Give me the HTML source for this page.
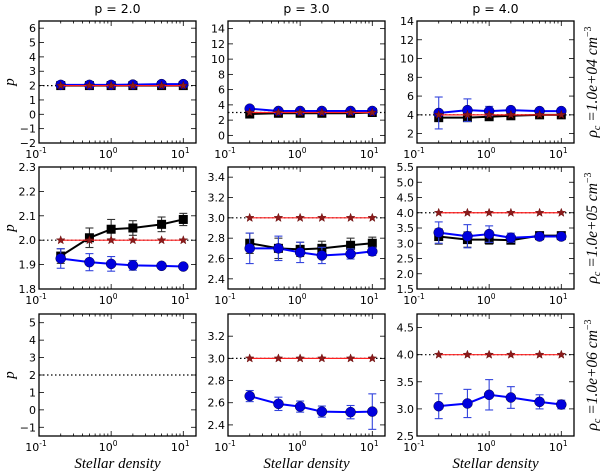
<!DOCTYPE html>
<html><head><meta charset="utf-8"><style>
html,body{margin:0;padding:0;background:#fff;}
svg{display:block;}
text{font-family:"DejaVu Sans","Liberation Sans",sans-serif;}
</style></head><body>
<svg id="fig" width="600" height="473" viewBox="0 0 600 473" xmlns="http://www.w3.org/2000/svg"></svg>
<script>
const xValues=[0.2,0.5,1,2,5,10];
const colTitles=["p = 2.0","p = 3.0","p = 4.0"];
const trueP=[2,3,4];
const rowLabels=["1.0e+04","1.0e+05","1.0e+06"];
const yLims=[[[-2,6.5],[-1,15],[1,14]],[[1.8,2.3],[2.3,3.5],[1.5,5.5]],[[-1.5,5.5],[2.3,3.4],[2.5,4.75]]];
const yTicks=[[[-2,-1,0,1,2,3,4,5,6],[0,2,4,6,8,10,12,14],[2,4,6,8,10,12,14]],
 [[1.8,1.9,2.0,2.1,2.2,2.3],[2.4,2.6,2.8,3.0,3.2,3.4],[1.5,2.0,2.5,3.0,3.5,4.0,4.5,5.0,5.5]],
 [[-1,0,1,2,3,4,5],[2.4,2.6,2.8,3.0,3.2],[2.5,3.0,3.5,4.0,4.5]]];
const yTickDec=[[0,0,0],[1,1,1],[0,1,1]];
const blackVals=[[[2.0,2.0,2.0,2.0,2.0,2.0],[2.8,2.9,2.9,2.9,2.9,3.0],[3.7,3.7,3.8,3.9,4.0,4.0]],
 [[1.935,2.01,2.045,2.05,2.065,2.085],[2.75,2.70,2.69,2.70,2.73,2.75],[3.22,3.12,3.12,3.1,3.25,3.25]],
 [null,null,null]];
const blackErr=[[[0.1,0.1,0.1,0.1,0.1,0.1],[0.2,0.2,0.2,0.2,0.2,0.2],[0.3,0.3,0.3,0.3,0.2,0.2]],
 [[0.03,0.04,0.04,0.03,0.03,0.025],[0.1,0.1,0.07,0.07,0.07,0.06],[0.25,0.25,0.15,0.1,0.08,0.05]],
 [null,null,null]];
const blueVals=[[[2.05,2.05,2.05,2.07,2.1,2.1],[3.5,3.2,3.2,3.2,3.2,3.2],[4.2,4.5,4.4,4.5,4.4,4.4]],
 [[1.925,1.91,1.903,1.897,1.895,1.892],[2.70,2.70,2.66,2.63,2.645,2.67],[3.35,3.23,3.3,3.18,3.22,3.22]],
 [null,[2.66,2.59,2.565,2.52,2.515,2.52],[3.05,3.1,3.26,3.21,3.13,3.08]]];
const blueErr=[[[0.1,0.1,0.1,0.1,0.1,0.1],[0.2,0.1,0.1,0.1,0.1,0.1],[1.7,1.2,0.5,0.3,0.2,0.2]],
 [[0.04,0.035,0.03,0.02,0.01,0.01],[0.15,0.12,0.1,0.08,0.05,0.04],[0.35,0.38,0.27,0.15,0.1,0.08]],
 [null,[0.05,0.06,0.05,0.05,0.06,0.16],[0.23,0.26,0.28,0.2,0.13,0.08]]];
const redVals=[[[2,2,2,2,2,2],[3,3,3,3,3,3],[4,4,4,4,4,4]],
 [[2,2,2,2,2,2],[3,3,3,3,3,3],[4,4,4,4,4,4]],
 [null,[3,3,3,3,3,3],[4,4,4,4,4,4]]];

const NS="http://www.w3.org/2000/svg";
const svg=document.getElementById('fig');
function mk(tag,attrs,parent){const e=document.createElementNS(NS,tag);for(const k in attrs)e.setAttribute(k,attrs[k]);(parent||svg).appendChild(e);return e;}
const colX=[39,228,417], W=157, rowY=[21,167,314], H=122;
const xMin=Math.log10(0.1), xMax=Math.log10(15);
const SERIF='font-family:"Liberation Serif","DejaVu Serif",serif;font-style:italic;';
function starPts(cx,cy,r){let p=[];for(let i=0;i<10;i++){const a=-Math.PI/2+i*Math.PI/5;const rr=i%2?r*0.42:r;p.push((cx+rr*Math.cos(a)).toFixed(1)+','+(cy+rr*Math.sin(a)).toFixed(1));}return p.join(' ');}

for(let r=0;r<3;r++){for(let c=0;c<3;c++){
 const x0=colX[c], y0=rowY[r];
 const [ymin,ymax]=yLims[r][c];
 const sx=v=>x0+(Math.log10(v)-xMin)/(xMax-xMin)*W;
 const sy=v=>y0+H-(v-ymin)/(ymax-ymin)*H;
 const g=mk('g',{});
 
 
 const clipId='clip'+r+c;
 const cp=mk('clipPath',{id:clipId},g);mk('rect',{x:x0,y:y0,width:W,height:H},cp);
 const pg=mk('g',{'clip-path':'url(#'+clipId+')'},g);
 const ref=mk('line',{x1:x0,x2:x0+W,y1:sy(trueP[c]),y2:sy(trueP[c]),stroke:'#000','stroke-width':1.2,'stroke-dasharray':'1.5,2.5'},pg);
 
 
 function series(vals,errs,color,ecolor,kind,name){
  if(!vals)return;
  if(errs){vals.forEach((v,i)=>{const X=sx(xValues[i]);const e=mk('g',{stroke:ecolor,'stroke-width':1.1},pg);
   
   
   mk('line',{x1:X,x2:X,y1:sy(v-errs[i]),y2:sy(v+errs[i])},e);
   mk('line',{x1:X-4,x2:X+4,y1:sy(v-errs[i]),y2:sy(v-errs[i])},e);
   mk('line',{x1:X-4,x2:X+4,y1:sy(v+errs[i]),y2:sy(v+errs[i])},e);});}
  const pl=mk('polyline',{points:vals.map((v,i)=>sx(xValues[i])+','+sy(v)).join(' '),fill:'none',stroke:color,'stroke-width':kind==='star'?1.2:2},pg);
  
  
  vals.forEach((v,i)=>{const X=sx(xValues[i]),Y=sy(v);let m;
   if(kind==='sq')m=mk('rect',{x:X-4.5,y:Y-4.5,width:9,height:9,fill:'#000'},pg);
   else if(kind==='circ')m=mk('circle',{cx:X,cy:Y,r:5,fill:'#0000dd',stroke:'#000044','stroke-width':0.5},pg);
   else m=mk('polygon',{points:starPts(X,Y,4.5),fill:'#8b1a1a',stroke:'#5a0000','stroke-width':0.4},pg);
   
   });
 }
 series(blackVals[r][c],blackErr[r][c],'#000','#333','sq','black-square');
 series(blueVals[r][c],blueErr[r][c],'#0000ff','#3344dd','circ','blue-circle');
 series(redVals[r][c],null,'#ff2020','#f00','star','red-star');
 const fr=mk('rect',{x:x0,y:y0,width:W,height:H,fill:'none',stroke:'#000','stroke-width':1.3},g);
 
 
 for(let d=-1;d<=1;d++){for(let k=1;k<10;k++){const v=k*Math.pow(10,d);if(v>15)break;const X=sx(v);const len=k===1?5:2.5;
  mk('line',{x1:X,x2:X,y1:y0+H,y2:y0+H-len,stroke:'#000','stroke-width':0.8},g);
  mk('line',{x1:X,x2:X,y1:y0,y2:y0+len,stroke:'#000','stroke-width':0.8},g);
  if(k===1){const t=mk('text',{x:X-3,y:y0+H+15,'font-size':11,'text-anchor':'middle'},g);t.textContent='10';
   
   
   const s=mk('tspan',{dy:-5,'font-size':7.5},t);s.textContent=String(d);}}}
 yTicks[r][c].forEach(v=>{const Y=sy(v);
  mk('line',{x1:x0,x2:x0+5,y1:Y,y2:Y,stroke:'#000','stroke-width':0.8},g);
  mk('line',{x1:x0+W,x2:x0+W-5,y1:Y,y2:Y,stroke:'#000','stroke-width':0.8},g);
  const t=mk('text',{x:x0-3,y:Y+4,'font-size':11,'text-anchor':'end'},g);
  t.textContent=(v<0?'\u2212':'')+Math.abs(v).toFixed(yTickDec[r][c]);
  
  });
 if(r===0){const t=mk('text',{x:x0+W/2,y:13,'font-size':12.5,'text-anchor':'middle'});t.textContent=colTitles[c];
  
  }
 if(c===0){const t=mk('text',{x:0,y:0,'font-size':15,style:SERIF,'text-anchor':'middle',transform:'translate(14,'+(y0+H/2)+') rotate(-90)'});t.textContent='p';
  
  }
 if(r===2){const t=mk('text',{x:x0+W/2,y:468,'font-size':15,style:SERIF,'text-anchor':'middle'});t.textContent='Stellar density';
  
  }
 if(c===2){const t=mk('text',{x:0,y:0,'font-size':15.5,style:SERIF,'text-anchor':'middle',transform:'translate(597,'+(y0+H/2)+') rotate(-90)'});
  
  
  t.appendChild(document.createTextNode('\u03c1'));
  const s1=mk('tspan',{dy:3,'font-size':10},t);s1.textContent='c';
  const s2=mk('tspan',{dy:-3},t);s2.textContent=' =1.0e+'+rowLabels[r].split('+')[1]+' ';
  const s3=mk('tspan',{},t);s3.textContent='cm';
  const s4=mk('tspan',{dy:-6,'font-size':10,style:'font-style:normal'},t);s4.textContent='\u22123';}
}}
</script>
</body></html>
